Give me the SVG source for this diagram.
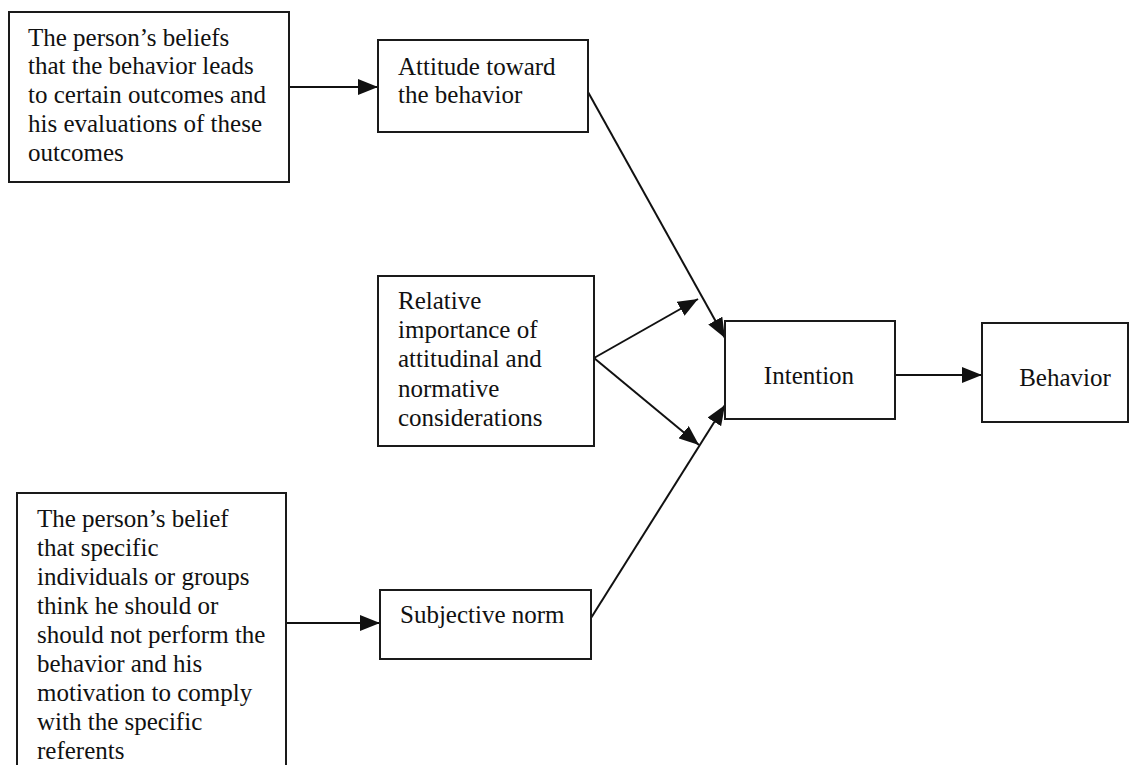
<svg xmlns="http://www.w3.org/2000/svg" width="1131" height="765" viewBox="0 0 1131 765">
  <style>
    .box { fill: #ffffff; stroke: #1a1a1a; stroke-width: 2; }
    .lbl { font-family: "Liberation Serif", "Times New Roman", Times, serif; font-size: 25px; fill: #111111; }
    .mid { text-anchor: middle; }
    .edge { stroke: #111111; stroke-width: 2; fill: none; marker-end: url(#arrow); }
  </style>
  <defs>
    <marker id="arrow" markerUnits="userSpaceOnUse" markerWidth="21" markerHeight="16" refX="20" refY="8" orient="auto">
      <path d="M0,0 L20,8 L0,16 z" fill="#111111"/>
    </marker>
  </defs>

  <rect width="1131" height="765" fill="#ffffff"/>

  <!-- Connectors -->
  <g id="connectors">
    <line class="edge" x1="289" y1="87" x2="378" y2="87"/>
    <line class="edge" x1="588" y1="92" x2="725" y2="338"/>
    <line class="edge" x1="594" y1="358" x2="698" y2="299"/>
    <line class="edge" x1="594" y1="358" x2="699" y2="445"/>
    <line class="edge" x1="591" y1="618" x2="725" y2="405"/>
    <line class="edge" x1="895" y1="375" x2="982" y2="375"/>
    <line class="edge" x1="286" y1="623" x2="380" y2="623"/>
  </g>

  <!-- Beliefs about outcomes -->
  <g id="beliefs-outcomes">
    <rect class="box" x="9" y="12" width="280" height="170"/>
    <text class="lbl" x="28" y="46">The person’s beliefs</text>
    <text class="lbl" x="28" y="74">that the behavior leads</text>
    <text class="lbl" x="28" y="103">to certain outcomes and</text>
    <text class="lbl" x="28" y="132">his evaluations of these</text>
    <text class="lbl" x="28" y="161">outcomes</text>
  </g>

  <!-- Attitude -->
  <g id="attitude">
    <rect class="box" x="378" y="40" width="210" height="92"/>
    <text class="lbl" x="398" y="75">Attitude toward</text>
    <text class="lbl" x="398" y="103">the behavior</text>
  </g>

  <!-- Relative importance -->
  <g id="relative-importance">
    <rect class="box" x="378" y="276" width="216" height="170"/>
    <text class="lbl" x="398" y="309">Relative</text>
    <text class="lbl" x="398" y="338">importance of</text>
    <text class="lbl" x="398" y="367">attitudinal and</text>
    <text class="lbl" x="398" y="397">normative</text>
    <text class="lbl" x="398" y="426">considerations</text>
  </g>

  <!-- Intention -->
  <g id="intention">
    <rect class="box" x="725" y="321" width="170" height="98"/>
    <text class="lbl mid" x="809" y="384">Intention</text>
  </g>

  <!-- Behavior -->
  <g id="behavior">
    <rect class="box" x="982" y="323" width="146" height="99"/>
    <text class="lbl mid" x="1065" y="386">Behavior</text>
  </g>

  <!-- Normative beliefs -->
  <g id="normative-beliefs">
    <rect class="box" x="17" y="493" width="269" height="300"/>
    <text class="lbl" x="37" y="527">The person’s belief</text>
    <text class="lbl" x="37" y="556">that specific</text>
    <text class="lbl" x="37" y="585">individuals or groups</text>
    <text class="lbl" x="37" y="614">think he should or</text>
    <text class="lbl" x="37" y="643">should not perform the</text>
    <text class="lbl" x="37" y="672">behavior and his</text>
    <text class="lbl" x="37" y="701">motivation to comply</text>
    <text class="lbl" x="37" y="730">with the specific</text>
    <text class="lbl" x="37" y="759">referents</text>
  </g>

  <!-- Subjective norm -->
  <g id="subjective-norm">
    <rect class="box" x="380" y="590" width="211" height="69"/>
    <text class="lbl" x="400" y="623">Subjective norm</text>
  </g>
</svg>
